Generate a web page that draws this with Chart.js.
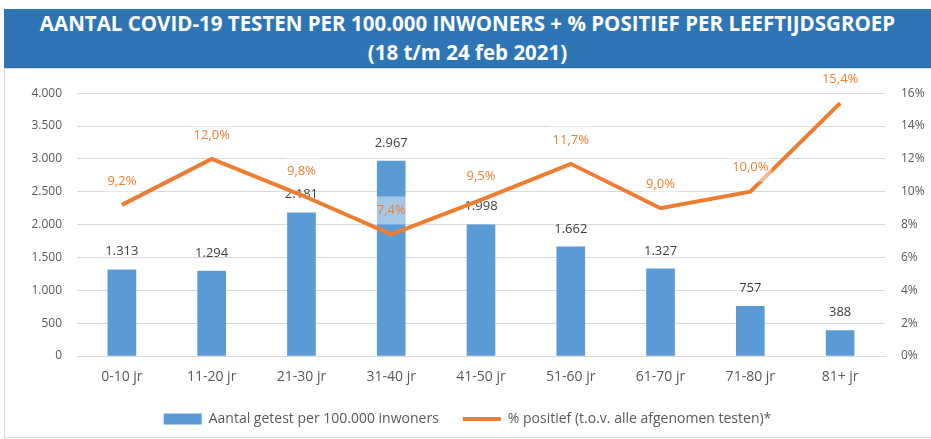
<!DOCTYPE html>
<html>
<head>
<meta charset="utf-8">
<script src="https://cdn.jsdelivr.net/npm/chart.js@4.4.0/dist/chart.umd.min.js"></script>
<style>
  body { margin: 0; background: #fff; width: 931px; height: 439px; overflow: hidden; position: relative; }
  #title {
    position: absolute; left: 4px; top: 9px; width: 927px; height: 59px;
    background: #2e75b6; color: #fff; text-align: center;
    font: bold 20.5px 'Open Sans', sans-serif; line-height: 29px; padding-top: 0;
    box-sizing: border-box;
  }
  #frame { position: absolute; left: 4px; top: 68px; width: 927px; height: 370px; border: 1px solid #d9d9d9; border-right: none; box-sizing: border-box; }
  #wrap { position: absolute; left: 4px; top: 70px; width: 927px; height: 369px; }
</style>
</head>
<body>
<div id="title">AANTAL COVID-19 TESTEN PER 100.000 INWONERS + % POSITIEF PER LEEFTIJDSGROEP<br>(18 t/m 24 feb 2021)</div>
<div id="frame"></div>
<div id="wrap"><canvas id="chart"></canvas></div>
<script>
/* age groups, tests per 100k and share positive */
const ageGroups = ['0-10 jr', '11-20 jr', '21-30 jr', '31-40 jr', '41-50 jr', '51-60 jr', '61-70 jr', '71-80 jr', '81+ jr'];
const testedPer100k = [1313, 1294, 2181, 2967, 1998, 1662, 1327, 757, 388];
const pctPositive   = [9.2, 12.0, 9.8, 7.4, 9.5, 11.7, 9.0, 10.0, 15.4];

const BLUE   = '#5b9bd5';
const ORANGE = '#ed7d31';
const GREY   = '#595959';

const fmtInt = v => String(v).replace(/\B(?=(\d{3})+(?!\d))/g, '.');
const fmtPct = v => v.toFixed(1).replace('.', ',') + '%';

/* ── data labels: bar values under the line, % labels on top ── */
const valueLabels = {
  id: 'valueLabels',
  afterDatasetDraw(chart, args) {
    if (args.index !== 0) return;
    const ctx = chart.ctx;
    ctx.save();
    ctx.font = '13px "Open Sans", sans-serif';
    ctx.fillStyle = '#404040';
    ctx.textAlign = 'center';
    ctx.textBaseline = 'middle';
    args.meta.data.forEach((bar, i) => ctx.fillText(fmtInt(testedPer100k[i]), bar.x, bar.y - 18));
    ctx.restore();
  },
  afterDatasetsDraw(chart) {
    const meta = chart.getDatasetMeta(1);
    const ctx = chart.ctx;
    ctx.save();
    ctx.font = '13px "Open Sans", sans-serif';
    ctx.textAlign = 'center';
    ctx.textBaseline = 'middle';
    meta.data.forEach((pt, i) => {
      const txt = fmtPct(pctPositive[i]);
      const w = ctx.measureText(txt).width;
      ctx.fillStyle = 'rgba(255,255,255,0.45)';
      ctx.fillRect(pt.x - w / 2 - 3, pt.y - 38, w + 6, 28);
      ctx.fillStyle = ORANGE;
      ctx.fillText(txt, pt.x, pt.y - 24);
    });
    ctx.restore();
  }
};

new Chart(document.getElementById('chart'), {
  type: 'bar',
  data: {
    labels: ageGroups,
    datasets: [
      {
        type: 'bar',
        label: 'Aantal getest per 100.000 inwoners',
        data: testedPer100k,
        backgroundColor: BLUE,
        barThickness: 28,
        yAxisID: 'y',
        order: 1,
        pointStyle: 'rect'
      },
      {
        type: 'line',
        label: '% positief (t.o.v. alle afgenomen testen)*',
        data: pctPositive,
        borderColor: ORANGE,
        backgroundColor: ORANGE,
        borderWidth: 4,
        pointRadius: 0,
        tension: 0,
        yAxisID: 'y1',
        order: 0,
        pointStyle: 'line'
      }
    ]
  },
  options: {
    responsive: true, maintainAspectRatio: false,
    animation: false,
    layout: { padding: { top: 22, bottom: 3, left: 0, right: 0 } },
    plugins: {
      legend: {
        position: 'bottom',
        labels: {
          color: GREY, font: { family: '"Open Sans", sans-serif', size: 14 },
          usePointStyle: true, pointStyleWidth: 38, boxHeight: 11, padding: 24,
          sort: (a, b) => a.datasetIndex - b.datasetIndex
        }
      },
      tooltip: { enabled: false }
    },
    scales: {
      x: {
        grid: { display: false },
        border: { color: '#d9d9d9' },
        ticks: { color: GREY, font: { family: '"Open Sans", sans-serif', size: 14 }, padding: 5 },
        afterFit: s => { s.height = 32; }
      },
      y: {
        position: 'left', min: 0, max: 4000,
        grid: { color: '#d9d9d9', drawTicks: false },
        border: { display: false },
        ticks: { stepSize: 500, color: GREY, font: { family: '"Open Sans", sans-serif', size: 12 }, padding: 15, callback: v => fmtInt(v) },
        afterFit: s => { s.width = 73; }
      },
      y1: {
        position: 'right', min: 0, max: 16,
        grid: { display: false, drawTicks: false },
        border: { display: false },
        ticks: { stepSize: 2, color: GREY, font: { family: '"Open Sans", sans-serif', size: 12 }, padding: 16, callback: v => v + '%' },
        afterFit: s => { s.width = 46; }
      }
    }
  },
  plugins: [valueLabels]
});
</script>
</body>
</html>
